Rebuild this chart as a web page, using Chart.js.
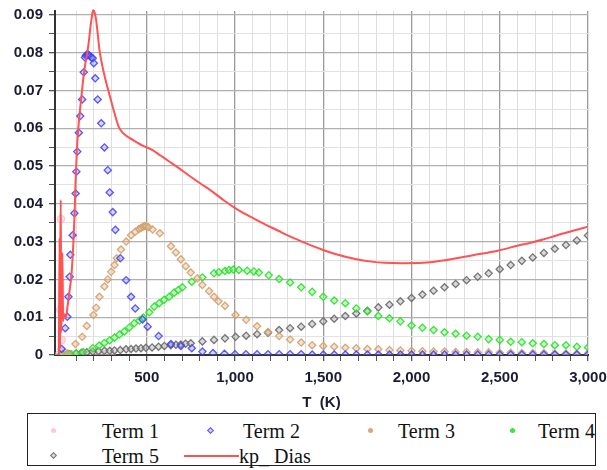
<!DOCTYPE html>
<html><head><meta charset="utf-8">
<script src="https://cdn.jsdelivr.net/npm/chart.js@4.4.1/dist/chart.umd.min.js"></script>
<style>
html,body{margin:0;padding:0;background:#fff;}
#wrap{position:relative;width:607px;height:470px;overflow:hidden;background:#fff;}
#c{position:absolute;left:0;top:0;}
#legend{position:absolute;left:27px;top:413px;width:569px;height:53px;border:1px solid #222;box-sizing:border-box;font-family:"Liberation Serif","Times New Roman",serif;font-size:20px;color:#111;}
.lt{position:absolute;white-space:nowrap;line-height:22px;height:22px;}
.mk{position:absolute;box-sizing:border-box;}
</style></head><body>
<div id="wrap"><canvas id="c" width="607" height="412"></canvas><div id="legend"></div></div>
<script>
// ---------- data ----------
const seriesLabels = ['Term 1', 'Term 2', 'Term 3', 'Term 4', 'Term 5', 'kp_ Dias'];

const term1T = [5, 10, 14, 18, 25, 35, 50, 70, 95, 125, 160, 200, 250, 300];
const term1  = [0.0002, 0.0120, 0.0360, 0.0040, 0.0010, 0.0005, 0.0003, 0.0002, 0.0001, 0.0001, 0.0000, 0.0000, 0.0000, 0.0000];

const term2T = [18, 38, 50, 56, 63, 67, 80, 90, 97, 101, 106, 115, 123, 134, 143, 150, 155, 160, 165, 170,
  178, 186, 194, 200, 208, 222, 242, 260, 279, 290, 307, 322, 350, 383, 411, 435, 476, 505, 567, 637,
  693, 755, 815, 875, 940, 1000, 1062, 1125, 1187, 1250, 1312, 1375, 1437, 1500, 1562, 1625, 1687, 1750,
  1812, 1875, 1937, 2000, 2062, 2125, 2187, 2250, 2312, 2375, 2437, 2500, 2562, 2625, 2687, 2750, 2812,
  2875, 2937, 3000];
const term2  = [0.0016, 0.0071, 0.0101, 0.0154, 0.0207, 0.0265, 0.0317, 0.0375, 0.0427, 0.0485,
  0.0538, 0.0588, 0.0632, 0.0676, 0.0748, 0.0787, 0.0792, 0.0794, 0.0795, 0.0794,
  0.0791, 0.0787, 0.0785, 0.0772, 0.0732, 0.0676, 0.0613, 0.0549, 0.0489, 0.0430,
  0.0378, 0.0331, 0.0256, 0.0198, 0.0154, 0.0123, 0.0094, 0.0075, 0.0050, 0.0029,
  0.0024, 0.0018, 0.0009, 0.0005, 0.0003, 0.0002, 0.0002, 0.0002, 0.0002, 0.0002, 0.0002, 0.0002,
  0.0001, 0.0001, 0.0001, 0.0001, 0.0001, 0.0001, 0.0001, 0.0001, 0.0001, 0.0001, 0.0001, 0.0001,
  0.0001, 0.0001, 0.0001, 0.0001, 0.0001, 0.0001, 0.0001, 0.0001, 0.0001, 0.0001, 0.0001, 0.0001,
  0.0001, 0.0001];

const term3T = [20, 53, 96, 134, 160, 198, 213, 232, 260, 279, 298, 317, 330, 354, 383, 411, 435, 455, 467, 478,
  488, 498, 510, 533, 574, 637, 665, 693, 721, 749, 787, 815, 853, 881, 906, 943, 1003, 1063, 1125, 1187,
  1250, 1312, 1375, 1437, 1500, 1562, 1625, 1687, 1750, 1812, 1875, 1937, 2000, 2062, 2125, 2187, 2250,
  2312, 2375, 2437, 2500, 2562, 2625, 2687, 2750, 2812, 2875, 2937, 3000];
const term3  = [0.0001, 0.0004, 0.0029, 0.0048, 0.0077, 0.0106, 0.0125, 0.0154, 0.0181, 0.0200,
  0.0220, 0.0238, 0.0256, 0.0279, 0.0300, 0.0317, 0.0326, 0.0333, 0.0336, 0.0339,
  0.0341, 0.0340, 0.0338, 0.0332, 0.0322, 0.0288, 0.0271, 0.0253, 0.0235, 0.0218,
  0.0203, 0.0185, 0.0169, 0.0154, 0.0142, 0.0130, 0.0106, 0.0093, 0.0076, 0.0061,
  0.0050, 0.0041, 0.0033, 0.0026, 0.0024, 0.0022, 0.0019, 0.0018, 0.0016, 0.0015,
  0.0013, 0.0012, 0.0011, 0.0010, 0.0009, 0.0009, 0.0008, 0.0008, 0.0007, 0.0007,
  0.0006, 0.0006, 0.0005, 0.0005, 0.0005, 0.0004, 0.0004, 0.0004, 0.0004];

const term4T = [10, 25, 45, 70, 100, 140, 194, 230, 260, 290, 317, 345, 373, 401, 429, 458, 480, 514, 542, 570,
  598, 627, 655, 679, 702, 755, 815, 881, 909, 943, 966, 990, 1022, 1069, 1107, 1135, 1191, 1250, 1312, 1375,
  1437, 1500, 1562, 1625, 1687, 1750, 1812, 1875, 1937, 2000, 2062, 2125, 2187, 2250, 2312, 2375, 2437,
  2500, 2562, 2625, 2687, 2750, 2812, 2875, 2937, 3000];
const term4  = [0.0000, 0.0001, 0.0001, 0.0002, 0.0004, 0.0008, 0.0018, 0.0025, 0.0032, 0.0039,
  0.0046, 0.0054, 0.0062, 0.0073, 0.0084, 0.0091, 0.0099, 0.0113, 0.0128, 0.0137,
  0.0146, 0.0154, 0.0165, 0.0172, 0.0179, 0.0194, 0.0205, 0.0216, 0.0219, 0.0222,
  0.0225, 0.0226, 0.0225, 0.0223, 0.0221, 0.0218, 0.0211, 0.0201, 0.0192, 0.0179,
  0.0167, 0.0154, 0.0144, 0.0137, 0.0123, 0.0115, 0.0103, 0.0097, 0.0089, 0.0078,
  0.0072, 0.0066, 0.0060, 0.0056, 0.0051, 0.0048, 0.0042, 0.0040, 0.0035, 0.0034,
  0.0031, 0.0029, 0.0026, 0.0026, 0.0022, 0.0020];

const term5T = [60, 100, 130, 160, 194, 227, 260, 290, 317, 350, 383, 411, 439, 467, 495, 530, 567, 600, 636, 665,
  693, 720, 749, 815, 881, 943, 1003, 1063, 1125, 1187, 1250, 1312, 1375, 1437, 1500, 1562, 1625, 1687, 1750,
  1812, 1875, 1937, 2000, 2062, 2125, 2187, 2250, 2312, 2375, 2437, 2500, 2562, 2625, 2687, 2750, 2812,
  2875, 2937, 3000];
const term5  = [0.0002, 0.0004, 0.0006, 0.0007, 0.0009, 0.0010, 0.0011, 0.0011, 0.0012, 0.0013,
  0.0015, 0.0016, 0.0017, 0.0018, 0.0019, 0.0020, 0.0022, 0.0024, 0.0026, 0.0027,
  0.0028, 0.0030, 0.0031, 0.0036, 0.0040, 0.0044, 0.0048, 0.0051, 0.0055, 0.0059,
  0.0066, 0.0071, 0.0075, 0.0082, 0.0089, 0.0096, 0.0103, 0.0110, 0.0117, 0.0126,
  0.0133, 0.0142, 0.0151, 0.0160, 0.0170, 0.0179, 0.0188, 0.0198, 0.0207, 0.0216,
  0.0227, 0.0238, 0.0249, 0.0258, 0.0270, 0.0281, 0.0291, 0.0303, 0.0316];

const kpT = [2, 6, 8, 10, 13, 15, 18, 22, 26, 30, 35, 42, 50, 57, 64, 72, 78, 85, 91, 96,
  100, 106, 114, 122, 131, 140, 150, 163, 172, 179, 186, 192, 198, 205, 213, 222, 232, 248, 266, 288,
  317, 340, 363, 400, 439, 480, 533, 580, 627, 680, 739, 800, 870, 940, 1003, 1078, 1173, 1248, 1286, 1379,
  1492, 1568, 1681, 1774, 1850, 1944, 2064, 2206, 2347, 2488, 2600, 2676, 2750, 2826, 2910, 2996];
const kpDias = [0.0000, 0.0310, 0.0020, 0.0280, 0.0410, 0.0060, 0.0120, 0.0270, 0.0090, 0.0110,
  0.0100, 0.0100, 0.0125, 0.0150, 0.0175, 0.0205, 0.0245, 0.0305, 0.0375, 0.0450,
  0.0500, 0.0560, 0.0610, 0.0650, 0.0690, 0.0730, 0.0765, 0.0800, 0.0830, 0.0860,
  0.0885, 0.0905, 0.0912, 0.0905, 0.0886, 0.0850, 0.0807, 0.0765, 0.0728, 0.0690,
  0.0640, 0.0605, 0.0588, 0.0575, 0.0564, 0.0553, 0.0542, 0.0527, 0.0512, 0.0495,
  0.0475, 0.0455, 0.0433, 0.0408, 0.0388, 0.0368, 0.0345, 0.0328, 0.0319, 0.0300,
  0.0279, 0.0267, 0.0254, 0.0247, 0.0244, 0.0243, 0.0244, 0.0252, 0.0264, 0.0276,
  0.0289, 0.0297, 0.0306, 0.0317, 0.0328, 0.0339];

const xTickValues = [100, 200, 300, 400, 500, 600, 700, 800, 900, 1000, 1100, 1200, 1300, 1400, 1500,
  1600, 1700, 1800, 1900, 2000, 2100, 2200, 2300, 2400, 2500, 2600, 2700, 2800, 2900, 3000];
const yTickValues = [0, 0.005, 0.01, 0.015, 0.02, 0.025, 0.03, 0.035, 0.04, 0.045,
  0.05, 0.055, 0.06, 0.065, 0.07, 0.075, 0.08, 0.085, 0.09];

// ---------- styling ----------
const pal = {
  t1: {b: 'rgba(255,180,200,0.75)', f: 'rgba(255,205,215,0.55)'},
  t2: {b: 'rgba(60,60,255,0.85)', f: 'rgba(140,140,255,0.35)'},
  t3: {b: 'rgba(210,160,110,0.9)', f: 'rgba(230,190,150,0.45)'},
  t4: {b: 'rgba(40,225,40,0.9)', f: 'rgba(140,245,140,0.45)'},
  t5: {b: 'rgba(105,105,105,0.9)', f: 'rgba(175,175,175,0.45)'},
  kp: '#ff5252'
};
const pts = (xs, ys) => xs.map((x, i) => ({x: x, y: ys[i]}));
const markerDs = (label, xs, ys, c, order, style) => ({
  label: label, data: pts(xs, ys), showLine: false, order: order,
  pointStyle: style || 'rectRot', pointRadius: 3.6, pointBorderWidth: 1.3,
  borderColor: c.b, backgroundColor: c.f, pointBorderColor: c.b, pointBackgroundColor: c.f
});

const datasets = [
  {label: seriesLabels[5], data: pts(kpT, kpDias), showLine: true, order: 0, borderColor: pal.kp,
   backgroundColor: pal.kp, borderWidth: 2, pointRadius: 0, cubicInterpolationMode: 'monotone', clip: false},
  markerDs(seriesLabels[1], term2T, term2, pal.t2, 1),
  markerDs(seriesLabels[2], term3T, term3, pal.t3, 2),
  markerDs(seriesLabels[3], term4T, term4, pal.t4, 3),
  markerDs(seriesLabels[4], term5T, term5, pal.t5, 4),
  markerDs(seriesLabels[0], term1T, term1, pal.t1, 5, 'circle')
];

const isMult = (v, m) => Math.abs(v / m - Math.round(v / m)) < 1e-6;
const tickFont = {family: '"Liberation Sans", Arial, sans-serif', size: 15, weight: 'bold'};

new Chart(document.getElementById('c').getContext('2d'), {
  type: 'scatter',
  data: {datasets: datasets},
  options: {
    responsive: false, animation: false, devicePixelRatio: 1,
    layout: {padding: {top: 11, right: 19, left: 0, bottom: 0}},
    plugins: {legend: {display: false}, tooltip: {enabled: false}},
    scales: {
      x: {
        type: 'linear', min: -20, max: 3000,
        afterBuildTicks: s => { s.ticks = xTickValues.map(v => ({value: v})); },
        afterFit: s => { s.height = 57; s.paddingLeft = 0; s.paddingRight = 0; },
        ticks: {autoSkip: false, maxRotation: 0, minRotation: 0, padding: 8, color: '#1b1b33', font: tickFont,
          callback: v => isMult(v, 500) ? Number(v).toLocaleString('en-US') : ''},
        grid: {
          color: c => (c.tick && isMult(c.tick.value, 500)) ? '#9a9a9a' : '#dedede',
          lineWidth: c => (c.tick && isMult(c.tick.value, 500)) ? 1.3 : 1,
          tickLength: 6, tickColor: '#555'
        },
        border: {color: '#333', width: 2},
        title: {display: true, text: 'T  (K)', color: '#1b1b33',
          font: {family: '"Liberation Sans", Arial, sans-serif', size: 15, weight: 'bold'}, padding: {top: 0, bottom: 0}}
      },
      y: {
        type: 'linear', min: 0, max: 0.091,
        afterBuildTicks: s => { s.ticks = yTickValues.map(v => ({value: v})); },
        afterFit: s => { s.width = 55; s.paddingTop = 0; s.paddingBottom = 0; },
        ticks: {autoSkip: false, padding: 6, color: '#1b1b33', font: tickFont,
          callback: v => isMult(v, 0.01) ? (v === 0 ? '0' : Number(v).toFixed(2)) : ''},
        grid: {
          color: c => (c.tick && isMult(c.tick.value, 0.01)) ? '#b0b0b0' : '#e2e2e2',
          lineWidth: c => (c.tick && isMult(c.tick.value, 0.01)) ? 1.3 : 1,
          tickLength: 6, tickColor: '#555'
        },
        border: {color: '#333', width: 2}
      }
    }
  }
});

// ---------- legend (HTML, built from the series definitions) ----------
const legendLayout = [
  {i: 0, kind: 'dot', c: pal.t1, mx: 26, tx: 74, row: 0},
  {i: 1, kind: 'dia', c: pal.t2, mx: 183, tx: 215, row: 0},
  {i: 2, kind: 'dot', c: pal.t3, mx: 343, tx: 370, row: 0},
  {i: 3, kind: 'dot', c: pal.t4, mx: 485, tx: 510, row: 0},
  {i: 4, kind: 'dia', c: pal.t5, mx: 26, tx: 74, row: 1},
  {i: 5, kind: 'line', c: pal.kp, mx: 156, tx: 211, row: 1}
];
const rowY = [17, 42];
const lg = document.getElementById('legend');
legendLayout.forEach(it => {
  const cy = rowY[it.row];
  const m = document.createElement('div');
  m.className = 'mk';
  if (it.kind === 'line') {
    Object.assign(m.style, {left: it.mx + 'px', top: (cy - 1) + 'px', width: '55px', height: '2px', background: it.c});
  } else if (it.kind === 'dia') {
    Object.assign(m.style, {left: (it.mx - 3) + 'px', top: (cy - 3) + 'px', width: '5px', height: '5px',
      background: it.c.f, border: '1.2px solid ' + it.c.b, transform: 'rotate(45deg)'});
  } else {
    Object.assign(m.style, {left: (it.mx - 3) + 'px', top: (cy - 3) + 'px', width: '5px', height: '5px',
      borderRadius: '50%', background: it.c.b});
  }
  lg.appendChild(m);
  const t = document.createElement('div');
  t.className = 'lt';
  t.textContent = seriesLabels[it.i];
  t.style.left = it.tx + 'px';
  t.style.top = (cy - 11) + 'px';
  lg.appendChild(t);
});
</script>
</body></html>
